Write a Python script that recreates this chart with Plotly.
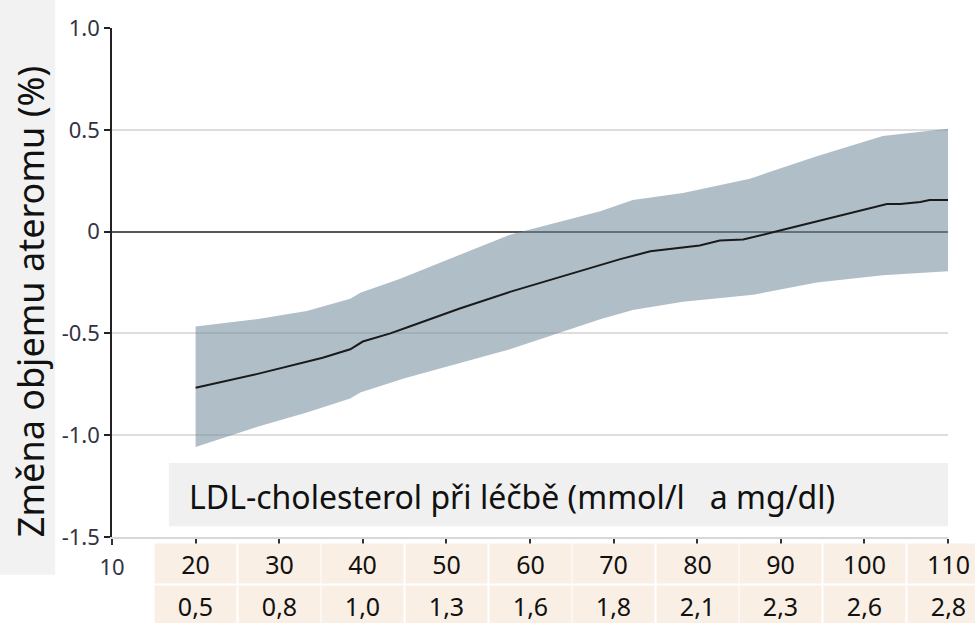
import plotly.graph_objects as go

# ---- data ----
mgdl_ticks = [10, 20, 30, 40, 50, 60, 70, 80, 90, 100, 110]
table_mgdl = [20, 30, 40, 50, 60, 70, 80, 90, 100, 110]
table_mmol = ['0,5', '0,8', '1,0', '1,3', '1,6', '1,8', '2,1', '2,3', '2,6', '2,8']

mean_x = [20, 27.3, 35.2, 38.5, 40.0, 43.3, 45.6, 51.6, 57.6, 64.4, 68.4, 70.8, 74.4,
          77.9, 80.3, 82.7, 85.5, 89.9, 102.7, 104.3, 106.7, 107.8, 110]
mean_y = [-0.767, -0.70, -0.62, -0.578, -0.54, -0.50, -0.466, -0.378, -0.296, -0.215,
          -0.165, -0.135, -0.097, -0.078, -0.068, -0.044, -0.039, 0.005, 0.136, 0.136,
          0.145, 0.155, 0.155]

upper_x = [20, 27.3, 33.3, 38.5, 39.7, 44.4, 57.6, 68.4, 72.3, 78.3, 86.3, 94.3, 102.2, 110]
upper_y = [-0.466, -0.43, -0.39, -0.33, -0.30, -0.233, -0.015, 0.10, 0.155, 0.19, 0.26,
           0.37, 0.47, 0.505]

lower_x = [20, 27.3, 33.3, 38.5, 39.7, 45, 57.6, 68.4, 72.3, 78.3, 86.7, 94.3, 102.2, 110]
lower_y = [-1.058, -0.96, -0.888, -0.82, -0.79, -0.72, -0.578, -0.43, -0.385, -0.345,
           -0.31, -0.25, -0.215, -0.195]

y_ticks = [-1.5, -1.0, -0.5, 0, 0.5, 1.0]
y_ticktext = ['-1.5', '-1.0', '-0.5', '0', '0.5', '1.0']

y_title = 'Změna objemu ateromu (%)'
x_title = 'LDL-cholesterol při léčbě (mmol/l\u00a0\u00a0\u00a0a mg/dl)'

X_RANGE = [10, 110]
Y_RANGE = [-1.5, 1.0]

TEXT_FONT = 'Noto Sans'

fig = go.Figure()

# confidence band
fig.add_trace(go.Scatter(
    x=upper_x + lower_x[::-1],
    y=upper_y + lower_y[::-1],
    fill='toself',
    fillcolor='rgba(111,137,155,0.55)',
    line=dict(width=0),
    mode='lines',
    hoverinfo='skip',
    showlegend=False,
))

# mean line
fig.add_trace(go.Scatter(
    x=mean_x, y=mean_y,
    mode='lines',
    line=dict(color='#1a1a1a', width=2),
    showlegend=False,
))

shapes = []
annotations = []

# grey panel behind y title
shapes.append(dict(type='rect', xref='paper', yref='paper',
                   x0=-0.14, x1=-0.068, y0=-0.074, y1=1.06,
                   fillcolor='#F2F2F2', line=dict(width=0), layer='below'))

annotations.append(dict(text=y_title, xref='paper', yref='paper',
                        x=-0.0965, y=0.462, textangle=-90, showarrow=False,
                        xanchor='center', yanchor='middle',
                        font=dict(family=TEXT_FONT, size=36, color='#111')))

# x title box inside the plot
shapes.append(dict(type='rect', xref='x', yref='y',
                   x0=16.8, x1=110, y0=-1.447, y1=-1.136,
                   fillcolor='#F0F0F0', line=dict(width=0), layer='below'))
annotations.append(dict(text=x_title, xref='x', yref='y',
                        x=19.0, y=-1.30, xanchor='left', yanchor='middle',
                        showarrow=False,
                        font=dict(family=TEXT_FONT, size=32, color='#111')))

# table of mg/dl and mmol/l values
for v, mm in zip(table_mgdl, table_mmol):
    annotations.append(dict(text=str(v), xref='x', yref='paper', x=v, y=-0.0515,
                            xanchor='center', yanchor='middle', showarrow=False,
                            width=81, height=39, borderpad=0, bgcolor='#FAEFE5',
                            font=dict(family=TEXT_FONT, size=25, color='#111')))
    annotations.append(dict(text=mm, xref='x', yref='paper', x=v, y=-0.135,
                            xanchor='center', yanchor='middle', showarrow=False,
                            width=81, height=40, borderpad=0, bgcolor='#FAEFE5',
                            font=dict(family=TEXT_FONT, size=25, color='#111')))

fig.update_layout(
    width=975, height=623,
    margin=dict(l=112, r=27, t=22, b=86),
    paper_bgcolor='white', plot_bgcolor='white',
    shapes=shapes, annotations=annotations,
    showlegend=False,
)

fig.update_xaxes(
    range=X_RANGE,
    tickvals=mgdl_ticks,
    ticktext=['10'] + [''] * (len(mgdl_ticks) - 1),
    showgrid=False, zeroline=False,
    showline=True, linecolor='#D8D8D8', linewidth=2,
    ticks='outside', ticklen=6, tickwidth=1.5, tickcolor='#333',
    ticklabelstandoff=4,
    tickfont=dict(family=TEXT_FONT, size=22, color='#333344'),
)

fig.update_yaxes(
    range=Y_RANGE,
    tickvals=y_ticks, ticktext=y_ticktext,
    showgrid=True, gridcolor='#DDDDDD', gridwidth=2,
    zeroline=True, zerolinecolor='#555555', zerolinewidth=1.5,
    showline=True, linecolor='#222', linewidth=1.5,
    ticks='outside', ticklen=6, tickwidth=1.5, tickcolor='#222',
    tickfont=dict(family=TEXT_FONT, size=22, color='#333344'),
)

fig.write_html('out.html', config={'displayModeBar': False},
               post_script="document.body.style.margin='0';")
